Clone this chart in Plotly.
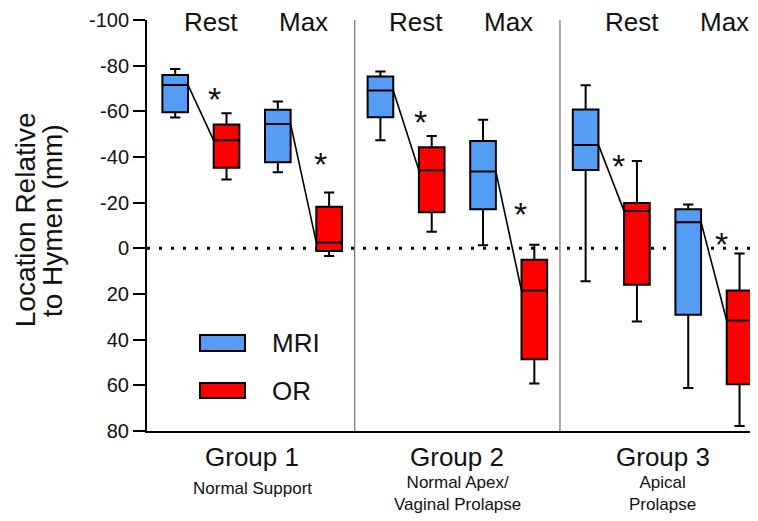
import plotly.graph_objects as go

# ---------------- data (mm relative to hymen; negative = above hymen) ----------------
groups = ["Group 1", "Group 2", "Group 3"]
group_desc = ["Normal Support", "Normal Apex/<br>Vaginal Prolapse", "Apical<br>Prolapse"]
phases = ["Rest", "Max"]
modalities = ["MRI", "OR"]

# order: G1 Rest, G1 Max, G2 Rest, G2 Max, G3 Rest, G3 Max
mri_min = [-78.5, -64.3, -77.5, -56.3, -71.4, -19.2]
mri_q1 = [-75.9, -60.7, -75.3, -47.0, -60.8, -17.1]
mri_med = [-71.5, -54.4, -69.1, -33.7, -45.3, -11.4]
mri_q3 = [-59.6, -37.7, -57.4, -17.1, -34.3, 29.1]
mri_max = [-57.3, -33.3, -47.3, -1.3, 14.4, 61.2]

or_min = [-59.2, -24.5, -49.2, -1.6, -38.2, 2.3]
or_q1 = [-54.2, -18.2, -44.3, 5.0, -19.9, 18.5]
or_med = [-47.3, -2.6, -34.2, 18.5, -16.3, 31.6]
or_q3 = [-35.3, 1.2, -15.8, 48.6, 16.0, 59.5]
or_max = [-30.2, 3.4, -7.3, 59.2, 32.0, 77.8]

y_ticks = [-100, -80, -60, -40, -20, 0, 20, 40, 60, 80]

# ---------------- layout helpers ----------------
BLUE = "#559CF5"
RED = "#FF0000"
FONT = "Liberation Sans, Arial, sans-serif"
TXT = "#111111"
BW = 0.5  # box width (data units)

n = len(mri_med)
mri_x = [2 * i for i in range(n)]
or_x = [2 * i + 1 for i in range(n)]

fig = go.Figure()

# connecting lines between medians
for i in range(n):
    fig.add_trace(go.Scatter(
        x=[mri_x[i] + BW / 2, or_x[i] - BW / 2], y=[mri_med[i], or_med[i]],
        mode="lines", line=dict(color="black", width=1.6),
        showlegend=False, hoverinfo="skip"))

for name, xs, lo, q1, med, q3, hi, col in [
    ("MRI", mri_x, mri_min, mri_q1, mri_med, mri_q3, mri_max, BLUE),
    ("OR", or_x, or_min, or_q1, or_med, or_q3, or_max, RED),
]:
    fig.add_trace(go.Box(
        name=name, x=xs, q1=q1, median=med, q3=q3, lowerfence=lo, upperfence=hi,
        width=BW, whiskerwidth=0.4, fillcolor=col,
        line=dict(color="black", width=2), boxpoints=False,
        showlegend=False, hoverinfo="skip"))

shapes = [
    dict(type="line", xref="paper", yref="y", x0=0, x1=1, y0=0, y1=0,
         line=dict(color="black", width=3, dash="3px,9px"), layer="below"),
    dict(type="line", xref="x", yref="paper", x0=3.5, x1=3.5, y0=0, y1=1,
         line=dict(color="#555555", width=1)),
    dict(type="line", xref="x", yref="paper", x0=7.5, x1=7.5, y0=0, y1=1,
         line=dict(color="#555555", width=1)),
    # legend swatches
    dict(type="rect", xref="paper", yref="paper", x0=0.0867, x1=0.1604, y0=0.1946, y1=0.2336,
         fillcolor=BLUE, line=dict(color="black", width=2)),
    dict(type="rect", xref="paper", yref="paper", x0=0.0867, x1=0.1604, y0=0.0803, y1=0.1168,
         fillcolor=RED, line=dict(color="black", width=2)),
]

ann = []
# legend labels
for lab, yy in zip(modalities, [0.214, 0.0973]):
    ann.append(dict(text=lab, xref="paper", yref="paper", x=0.2013, y=yy, xanchor="left",
                    yanchor="middle", showarrow=False, font=dict(size=26, color=TXT, family=FONT)))
# Rest / Max headers
header_x = [0.7, 2.5, 4.7, 6.5, 8.9, 10.7]
for k, hx in enumerate(header_x):
    ann.append(dict(text=phases[k % 2], xref="x", yref="paper", x=hx, y=0.995, xanchor="center",
                    yanchor="middle", showarrow=False, font=dict(size=26, color=TXT, family=FONT)))
# asterisks
star_x = [0.76, 2.83, 4.78, 6.74, 8.64, 10.64]
star_y = [-67, -38.7, -57, -16.7, -37.8, -3.5]
for sx, sy in zip(star_x, star_y):
    ann.append(dict(text="*", xref="x", yref="y", x=sx, y=sy, xanchor="center", yanchor="middle",
                    yshift=-4, showarrow=False, font=dict(size=34, color=TXT, family=FONT)))
# group labels
sub_y = [-0.111, -0.097, -0.097]
for g, (gname, gdesc) in enumerate(zip(groups, group_desc)):
    cx = (mri_x[2 * g] + or_x[2 * g + 1]) / 2
    ann.append(dict(text=gname, xref="x", yref="paper", x=cx, y=-0.063, xanchor="center",
                    yanchor="middle", showarrow=False, font=dict(size=26, color=TXT, family=FONT)))
    ann.append(dict(text=gdesc, xref="x", yref="paper", x=cx, y=sub_y[g], xanchor="center",
                    yanchor="top", showarrow=False, font=dict(size=17, color=TXT, family=FONT)))
# y axis title (two lines, tight spacing)
for txt, xx in [("Location Relative", -0.1995), ("to Hymen (mm)", -0.1555)]:
    ann.append(dict(text=txt, xref="paper", yref="paper",
                    x=xx, y=0.513, textangle=-90, xanchor="center", yanchor="middle",
                    showarrow=False, font=dict(size=28, color=TXT, family=FONT)))

# the page body adds an 8px offset; the figure is sized to fill the rest of the window
fig.update_layout(
    width=750, height=513,
    margin=dict(l=139, r=0, t=12, b=90),
    paper_bgcolor="white", plot_bgcolor="white",
    font=dict(family=FONT, color=TXT),
    showlegend=False,
    shapes=shapes, annotations=ann,
    xaxis=dict(range=[-0.55, 11.36], showline=True, linecolor="black", linewidth=2,
               showticklabels=False, ticks="", showgrid=False, zeroline=False, fixedrange=True),
    yaxis=dict(range=[80, -100], tickvals=y_ticks, ticktext=[str(v) for v in y_ticks],
               showline=True, linecolor="black", linewidth=2, ticks="outside", ticklen=12,
               tickwidth=2, tickcolor="black", tickfont=dict(size=20, color=TXT, family=FONT),
               showgrid=False, zeroline=False, fixedrange=True),
)

fig.write_html("out.html")
